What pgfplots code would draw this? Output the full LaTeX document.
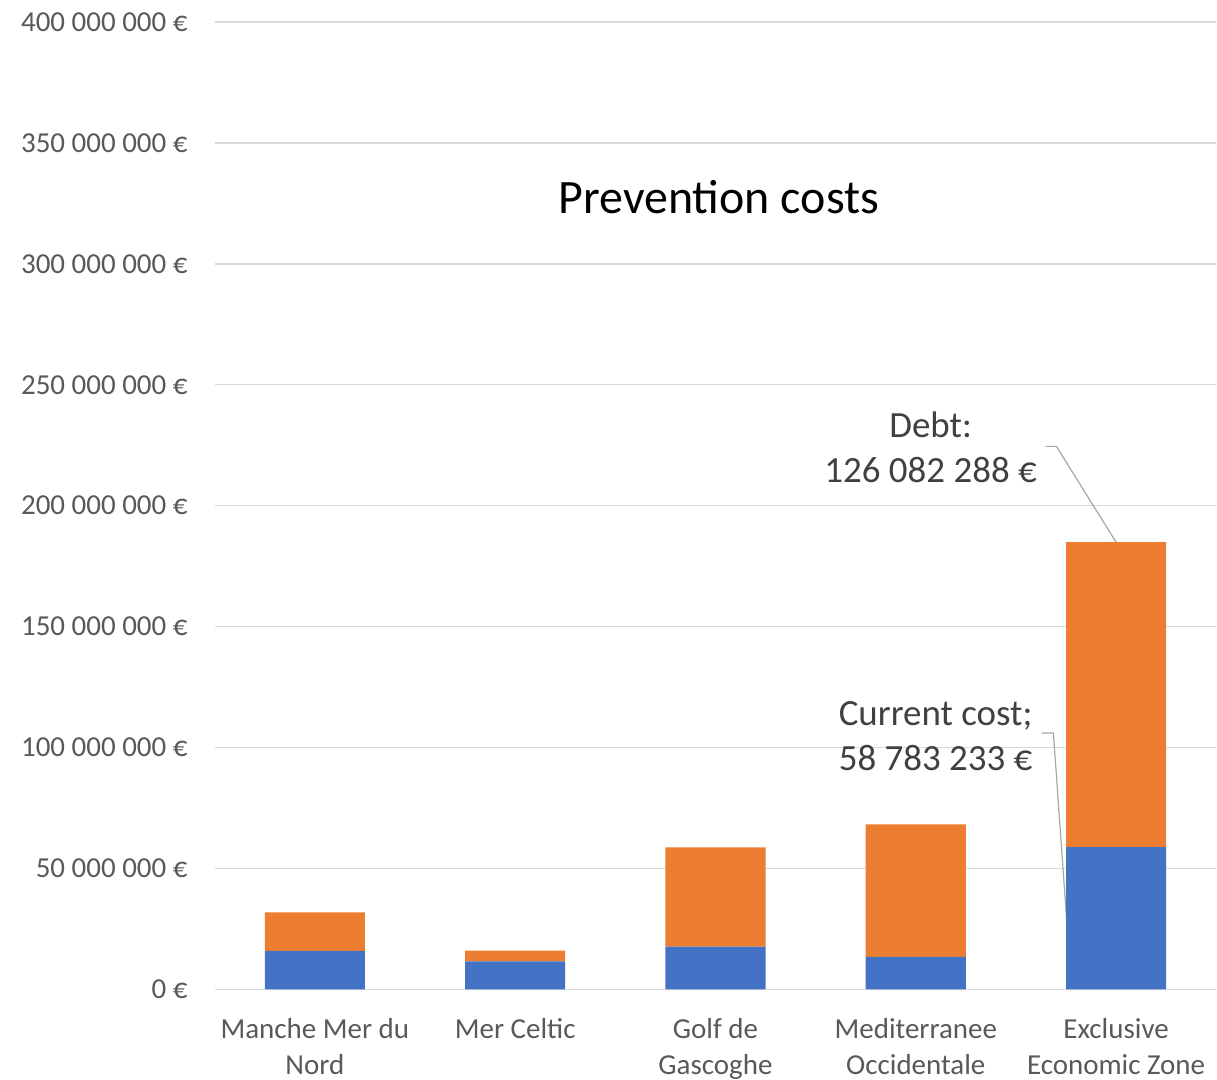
\documentclass[border=0pt]{standalone}
\usepackage{fontspec}
\setmainfont{Carlito}
\usepackage{pgfplots}
\pgfplotsset{compat=1.18}

\definecolor{barblue}{HTML}{4472C4}
\definecolor{barorange}{HTML}{ED7D31}
\definecolor{gridgray}{HTML}{D9D9D9}
\definecolor{ticktext}{HTML}{595959}
\definecolor{labeltext}{HTML}{404040}
\definecolor{leader}{HTML}{A6A6A6}

\begin{document}
\begin{tikzpicture}
\begin{axis}[
  name=ax,
  at={(0,0)}, anchor=south west,
  scale only axis,
  width=1003pt, height=968.7pt,
  xmin=-0.5, xmax=4.5,
  ymin=0, ymax=400000000,
  ybar stacked,
  bar width=0.5,
  axis line style={draw=none},
  major tick length=0pt,
  ymajorgrids,
  grid style={gridgray, line width=1.5pt},
  scaled y ticks=false,
  ytick={0,50000000,100000000,150000000,200000000,250000000,300000000,350000000,400000000},
  yticklabels={0 €,50 000 000 €,100 000 000 €,150 000 000 €,200 000 000 €,250 000 000 €,300 000 000 €,350 000 000 €,400 000 000 €},
  yticklabel style={font=\fontsize{29}{35}\selectfont, text=ticktext, inner sep=0pt, xshift=-27pt, anchor=east},
  xtick={0,1,2,3,4},
  xticklabels={Manche Mer du\\Nord, Mer Celtic, Golf de\\Gascoghe, Mediterranee\\Occidentale, Exclusive\\Economic Zone},
  xticklabel style={font=\fontsize{29}{36}\selectfont, text=ticktext, align=center, inner sep=0pt, yshift=-29pt, anchor=north},
  clip=false,
]
% current cost
\addplot[fill=barblue, draw=none] coordinates {
  (0,15900000) (1,11500000) (2,17600000) (3,13400000) (4,58783233)};
% debt
\addplot[fill=barorange, draw=none] coordinates {
  (0,15900000) (1,4500000) (2,41100000) (3,54800000) (4,126082288)};

% title
\node[font=\fontsize{48}{56}\selectfont, text=black] at (axis cs:2.017,327700000) {Prevention costs};

% data labels with leader lines
\node[font=\fontsize{37}{45}\selectfont, text=labeltext, align=center] at (axis cs:3.074,224100000) {Debt:\\126 082 288 €};
\draw[leader, line width=1.2pt] (axis cs:3.648,224500000) -- (axis cs:3.702,224500000) -- (axis cs:4.0,184865521);

\node[font=\fontsize{37}{45}\selectfont, text=labeltext, align=center] at (axis cs:3.099,104800000) {Current cost;\\58 783 233 €};
\draw[leader, line width=1.2pt] (axis cs:3.628,106000000) -- (axis cs:3.687,106000000) -- (axis cs:3.752,30000000);
\end{axis}
\path (ax.south west) ++(-215pt,-90.3pt) rectangle ++(1217pt,1081pt);
\end{tikzpicture}
\end{document}
